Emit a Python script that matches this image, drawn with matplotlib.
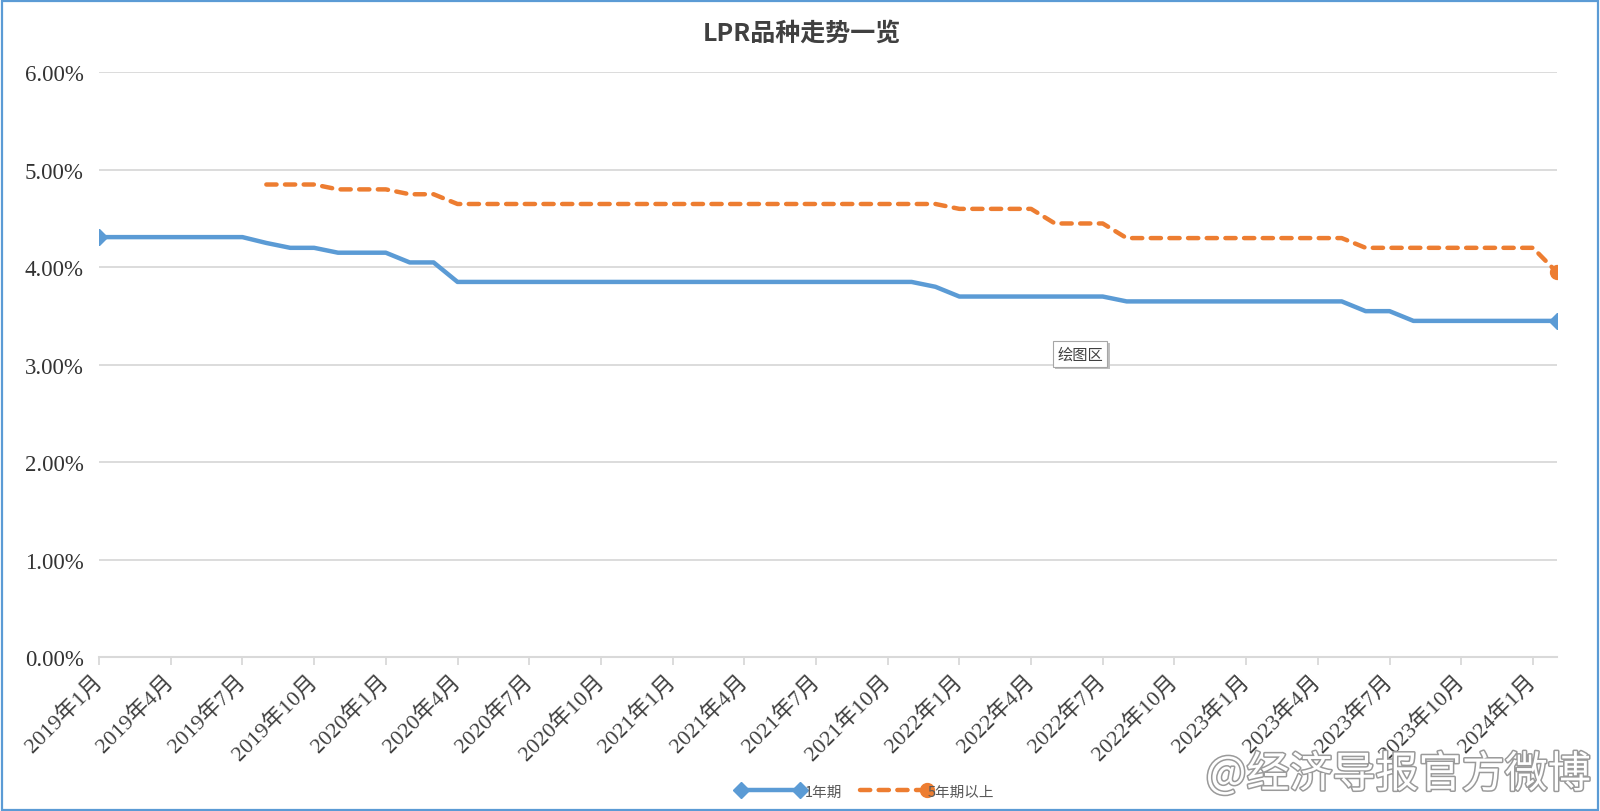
import numpy as np
import matplotlib
matplotlib.use("Agg")
import matplotlib.pyplot as plt
from matplotlib.legend_handler import HandlerLine2D
from matplotlib.patches import Rectangle
from matplotlib.lines import Line2D
import matplotlib.patheffects as pe

plt.rcParams['font.family'] = ['Noto Sans CJK SC', 'DejaVu Sans']

# ---------------- data ----------------
# monthly observations from 2019年1月 to 2024年2月 (62 months)
lpr_1y = ([4.31] * 7 + [4.25] + [4.20] * 2 + [4.15] * 3 + [4.05] * 2 +
          [3.85] * 20 + [3.80] + [3.70] * 7 + [3.65] * 10 + [3.55] * 2 +
          [3.45] * 7)
lpr_5y = ([np.nan] * 7 + [4.85] * 3 + [4.80] * 3 + [4.75] * 2 + [4.65] * 21 +
          [4.60] * 4 + [4.45] * 3 + [4.30] * 10 + [4.20] * 8 + [3.95])
tick_labels = ["2019年1月", "2019年4月", "2019年7月", "2019年10月",
               "2020年1月", "2020年4月", "2020年7月", "2020年10月",
               "2021年1月", "2021年4月", "2021年7月", "2021年10月",
               "2022年1月", "2022年4月", "2022年7月", "2022年10月",
               "2023年1月", "2023年4月", "2023年7月", "2023年10月",
               "2024年1月"]
series_names = ["1年期", "5年期以上"]
title = "LPR品种走势一览"
y_ticks = [0, 1, 2, 3, 4, 5, 6]

BLUE = "#5b9bd5"
ORANGE = "#ed7d31"
GRID = "#d9d9d9"
TXT = "#404040"

x = np.arange(len(lpr_1y))
y1 = np.array(lpr_1y) / 100
y5 = np.array(lpr_5y) / 100

fig = plt.figure(figsize=(16, 8.12), dpi=100)
ax = fig.add_axes([0.0619, 0.1897, 0.973 - 0.0619, 0.9095 - 0.1897])

l1, = ax.plot(x, y1, color=BLUE, lw=3.2, marker='D', markersize=8.5,
              markevery=[0, len(x) - 1], solid_capstyle='round',
              solid_joinstyle='round', label=series_names[0], zorder=3)
l5, = ax.plot(x, y5, color=ORANGE, lw=3.2, linestyle=(0, (2.3, 1.9)),
              dash_capstyle='round', dash_joinstyle='round',
              marker='o', markersize=10, markevery=[len(x) - 1],
              label=series_names[1], zorder=3)

ax.set_xlim(0, len(x) - 1)
ax.set_ylim(0, 0.06)
ax.set_yticks([v / 100 for v in y_ticks])
ax.set_yticklabels([f"{v:.2f}%" for v in y_ticks])
ax.yaxis.grid(True, color=GRID, lw=1.3)
ax.set_axisbelow(True)
ax.tick_params(axis='y', length=0, pad=11, labelsize=16.5, labelcolor="#333333")
for lab in ax.get_yticklabels():
    lab.set_family(['Liberation Serif', 'Noto Sans CJK SC'])

tick_pos = x[::3]
ax.set_xticks(tick_pos)
ax.set_xticklabels(tick_labels[:len(tick_pos)], rotation=45, ha='right',
                   va='center', rotation_mode='anchor')
ax.tick_params(axis='x', length=6, width=1.3, color=GRID, pad=9,
               labelsize=16, labelcolor=TXT)
for lab in ax.get_xticklabels():
    lab.set_family(['Liberation Serif', 'Noto Sans CJK SC'])

for s in ['left', 'right', 'top']:
    ax.spines[s].set_visible(False)
ax.spines['bottom'].set_color(GRID)
ax.spines['bottom'].set_linewidth(1.5)
ax.spines['bottom'].set_zorder(1)

fig.text(0.501, 0.959, title, ha='center', va='center', fontsize=18,
         fontweight='bold', color=TXT)


class EndMarkerHandler(HandlerLine2D):
    """Legend line with a single marker at its right end."""
    def create_artists(self, legend, orig_handle, xdescent, ydescent,
                       width, height, fontsize, trans):
        arts = super().create_artists(legend, orig_handle, xdescent, ydescent,
                                      width, height, fontsize, trans)
        for a in arts:
            a.set_markevery([len(a.get_xdata()) - 1])
        return arts


h1 = Line2D([], [], color=BLUE, lw=3.2, marker='D', markersize=8.5)
h5 = Line2D([], [], color=ORANGE, lw=3.2, linestyle=(0, (2.3, 1.9)),
            dash_capstyle='round', marker='o', markersize=10)
fig.legend([h1, h5], series_names, loc='center', bbox_to_anchor=(0.541, 0.024),
           ncol=2, frameon=False, fontsize=10.5, labelcolor="#595959",
           handlelength=4.6, handletextpad=0.05, columnspacing=1.2,
           handler_map={h1: HandlerLine2D(numpoints=2),
                        h5: EndMarkerHandler(numpoints=1)})

# tooltip-like label inside the plot area (with a soft shadow)
ax.text(0.6765, 0.5605, "绘图区", transform=fig.transFigure, ha='center',
        va='center', fontsize=11, color='none', zorder=4,
        bbox=dict(boxstyle='square,pad=0.3', fc='#bfbfbf', ec='none'))
ax.text(0.6750, 0.5630, "绘图区", transform=fig.transFigure, ha='center',
        va='center', fontsize=11, color=TXT, zorder=5,
        bbox=dict(boxstyle='square,pad=0.3', fc='white', ec='#a6a6a6', lw=0.8))

# watermark
fig.text(0.994, 0.044, "@经济导报官方微博", ha='right', va='center',
         fontsize=31, color='white',
         path_effects=[pe.withStroke(linewidth=2.2, foreground='#9a9a9a')])

# figure border
fig.patches.append(Rectangle((0.001, 0.001), 0.998, 0.997, transform=fig.transFigure,
                             fill=False, ec=BLUE, lw=1.6))

fig.savefig("out.png", dpi=100)
